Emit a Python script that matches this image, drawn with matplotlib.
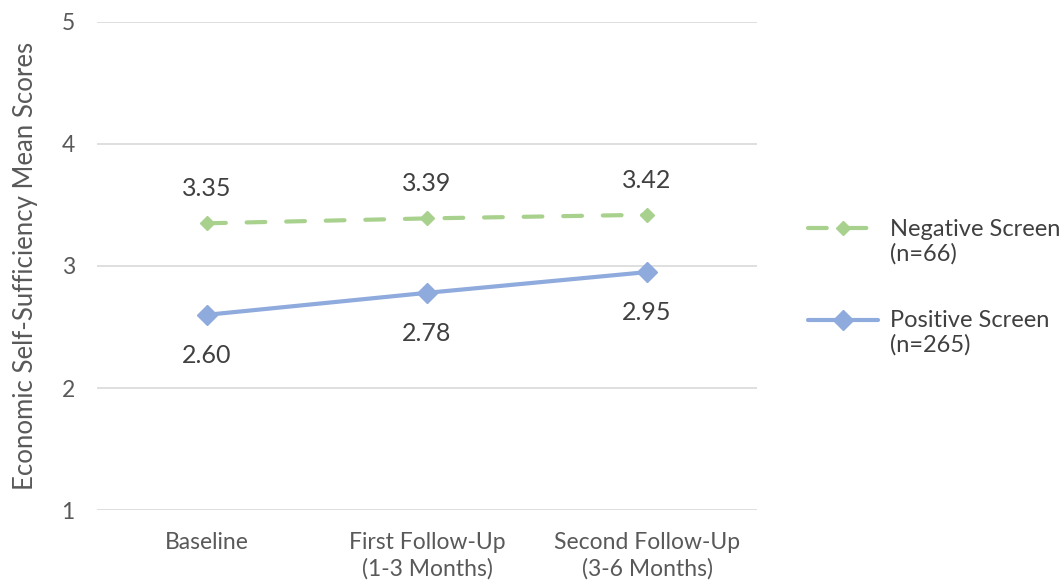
import matplotlib.pyplot as plt
from matplotlib.legend_handler import HandlerLine2D

plt.rcParams['font.family'] = ['Lato', 'DejaVu Sans']

categories = ['Baseline', 'First Follow-Up\n(1-3 Months)', 'Second Follow-Up\n(3-6 Months)']
negative = [3.35, 3.39, 3.42]
positive = [2.60, 2.78, 2.95]
neg_label = 'Negative Screen\n(n=66)'
pos_label = 'Positive Screen\n(n=265)'

green = '#A9D18E'
blue = '#8FAADC'
txt = '#404040'


class TopHandler(HandlerLine2D):
    # put the legend line next to the first text line
    def create_artists(self, legend, orig_handle, xdescent, ydescent, width, height, fontsize, trans):
        return super().create_artists(legend, orig_handle, xdescent, ydescent - 1.15 * fontsize,
                                      width, height, fontsize, trans)


fig = plt.figure(figsize=(10.64, 5.83), dpi=100)
ax = fig.add_axes([0.0912, 0.1252, 0.6203, 0.8371])

x = range(len(categories))
ax.plot(x, negative, color=green, lw=3, ls=(0, (4.5, 5.0)), marker='D', ms=7,
        label=neg_label, solid_capstyle='round', dash_capstyle='round')
ax.plot(x, positive, color=blue, lw=3, marker='D', ms=10, label=pos_label,
        solid_capstyle='round')

for i, v in enumerate(negative):
    ax.annotate(f'{v:.2f}', (i, v), xytext=(0, 25), textcoords='offset points',
                ha='center', va='center', fontsize=18, color=txt)
for i, v in enumerate(positive):
    ax.annotate(f'{v:.2f}', (i, v), xytext=(0, -29), textcoords='offset points',
                ha='center', va='center', fontsize=18, color=txt)

ax.set_xlim(-0.5, 2.5)
ax.set_ylim(1, 5)
ax.set_yticks([1, 2, 3, 4, 5])
ax.set_xticks(list(x))
ax.set_xticklabels(categories, fontsize=16.5, color='#595959', linespacing=1.3)
ax.tick_params(axis='y', labelsize=16.5, labelcolor='#595959', length=0, pad=16)
ax.tick_params(axis='x', length=0, pad=16)
ax.grid(axis='y', color='#D9D9D9', lw=1.2)
ax.set_axisbelow(True)
for s in ax.spines.values():
    s.set_visible(False)
ax.set_ylabel('Economic Self-Sufficiency Mean Scores', fontsize=18.5, color='#595959', labelpad=17)

ax.legend(loc='upper left', bbox_to_anchor=(0.759, 0.625), bbox_transform=fig.transFigure,
          frameon=False, fontsize=17, labelcolor=txt, handlelength=3.0, handletextpad=0.5,
          labelspacing=1.92, borderaxespad=0, borderpad=0,
          handler_map={plt.Line2D: TopHandler()})

fig.savefig('out.png', dpi=100)
